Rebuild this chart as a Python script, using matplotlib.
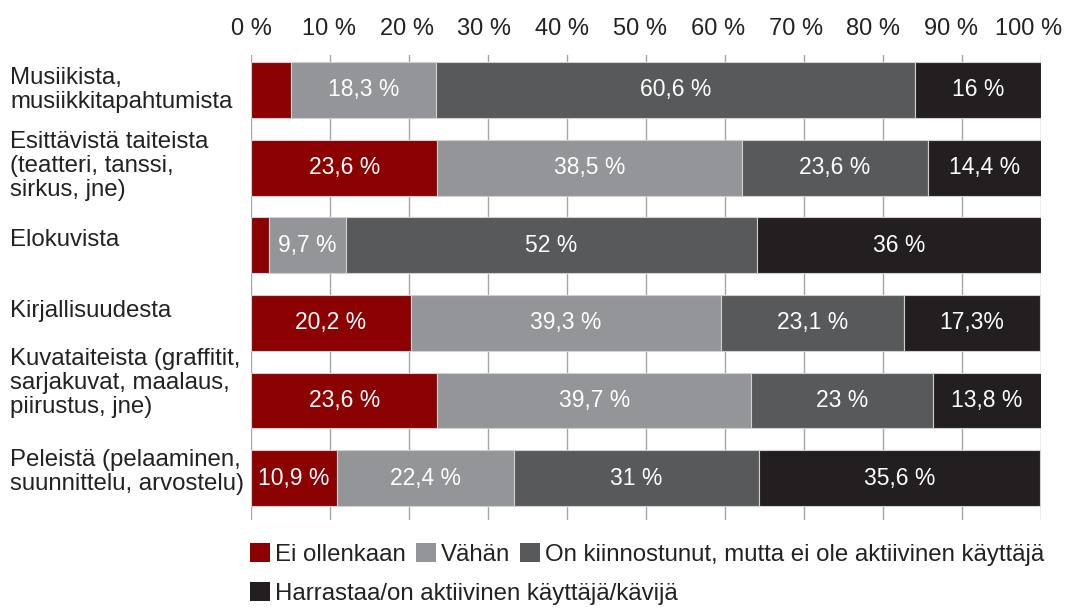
import matplotlib
matplotlib.use("Agg")
import matplotlib.pyplot as plt
from matplotlib.patches import Patch
from matplotlib.ticker import FuncFormatter
from matplotlib.transforms import ScaledTranslation, blended_transform_factory

plt.rcParams['font.family'] = ['Liberation Sans', 'DejaVu Sans']

categories = [
    "Musiikista,\nmusiikkitapahtumista",
    "Esittävistä taiteista\n(teatteri, tanssi,\nsirkus, jne)",
    "Elokuvista",
    "Kirjallisuudesta",
    "Kuvataiteista (graffitit,\nsarjakuvat, maalaus,\npiirustus, jne)",
    "Peleistä (pelaaminen,\nsuunnittelu, arvostelu)",
]
series_names = [
    "Ei ollenkaan",
    "Vähän",
    "On kiinnostunut, mutta ei ole aktiivinen käyttäjä",
    "Harrastaa/on aktiivinen käyttäjä/kävijä",
]
ei_ollenkaan = [5.1, 23.6, 2.3, 20.2, 23.6, 10.9]
vahan = [18.3, 38.5, 9.7, 39.3, 39.7, 22.4]
kiinnostunut = [60.6, 23.6, 52.0, 23.1, 23.0, 31.0]
harrastaa = [16.0, 14.4, 36.0, 17.3, 13.8, 35.6]

# labels as printed in the original (empty = not shown)
labels_ei = ["", "23,6 %", "", "20,2 %", "23,6 %", "10,9 %"]
labels_vahan = ["18,3 %", "38,5 %", "9,7 %", "39,3 %", "39,7 %", "22,4 %"]
labels_kiinn = ["60,6 %", "23,6 %", "52 %", "23,1 %", "23 %", "31 %"]
labels_harr = ["16 %", "14,4 %", "36 %", "17,3%", "13,8 %", "35,6 %"]

colors = ["#8b0000", "#939598", "#58595b", "#231f20"]
text_col = "#222222"

fig = plt.figure(figsize=(10.68, 6.09), dpi=100)
ax = fig.add_axes([0.235, 0.1461, 0.7397, 0.7636])

values = [ei_ollenkaan, vahan, kiinnostunut, harrastaa]
texts = [labels_ei, labels_vahan, labels_kiinn, labels_harr]
ypos = list(range(len(categories)))
left = [0.0] * len(categories)
for vals, labs, col in zip(values, texts, colors):
    bars = ax.barh(ypos, vals, left=left, height=0.72, color=col,
                   edgecolor="#d0d0d0", linewidth=0.8, zorder=3)
    ax.bar_label(bars, labels=labs, label_type="center", color="white",
                 fontsize=16.5)
    left = [l + v for l, v in zip(left, vals)]

ax.set_xlim(0, 100)
ax.set_ylim(5.54, -0.45)
ax.set_xticks(range(0, 101, 10))
ax.xaxis.set_major_formatter(FuncFormatter(lambda v, p: f"{v:.0f} %"))
ax.xaxis.tick_top()
ax.tick_params(axis="x", length=0, pad=11, labelsize=17, labelcolor=text_col)
ax.set_yticks([])
ax.grid(axis="x", color="#a6a6a6", linewidth=1, zorder=0)
for s in ax.spines.values():
    s.set_visible(False)

# tick labels drift slightly left in the original, last one stays inside
for k, lab in enumerate(ax.get_xticklabels()):
    lab.set_transform(lab.get_transform()
                      + ScaledTranslation(-0.012 * k, 0, fig.dpi_scale_trans))

# category labels, left aligned at figure edge
label_dy = [0.0, -0.02, -0.07, -0.15, -0.23, -0.08]
trans = blended_transform_factory(fig.transFigure, ax.transData)
for y, name, dy in zip(ypos, categories, label_dy):
    ax.text(0.0094, y + dy, name, transform=trans, ha="left", va="center",
            fontsize=17.3, color=text_col, linespacing=1.12)

handles = [Patch(facecolor=c) for c in colors]
leg_kw = dict(loc="upper left", frameon=False, fontsize=17.3,
              handlelength=0.85, handleheight=0.85, handletextpad=0.2,
              borderpad=0, borderaxespad=0, labelcolor=text_col)
fig.legend(handles[:3], series_names[:3], bbox_to_anchor=(0.234, 0.108),
           ncol=3, columnspacing=0.4, **leg_kw)
fig.legend(handles[3:], series_names[3:], bbox_to_anchor=(0.234, 0.044),
           **leg_kw)

fig.savefig("out.png", dpi=100)
